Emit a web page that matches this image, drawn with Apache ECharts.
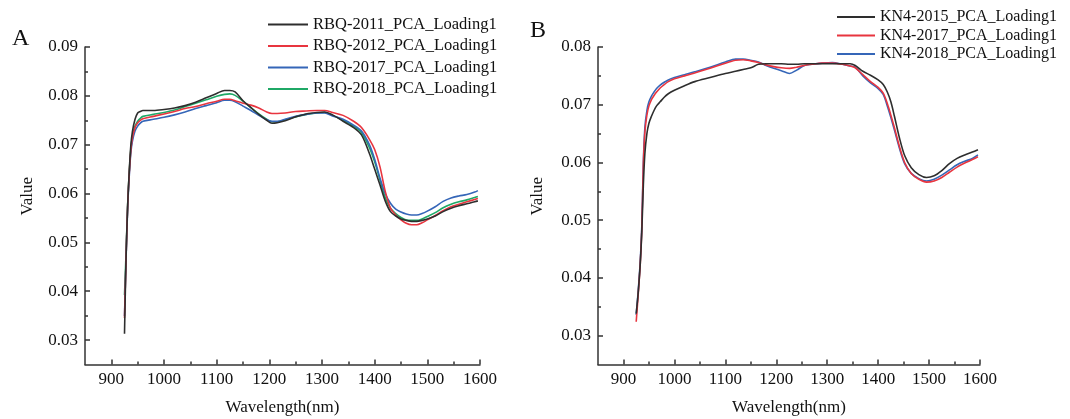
<!DOCTYPE html>
<html><head><meta charset="utf-8">
<script src="https://cdn.jsdelivr.net/npm/echarts@6/dist/echarts.min.js"></script>
<style>html,body{margin:0;padding:0;background:#fff}#c{width:1070px;height:419px}</style>
</head><body><div id="c"></div>
<script>
// ---------- Panel A data ----------
const wlA = [925,928,931,934,937,940,945,950,955,960,980,1000,1020,1040,1060,1080,1100,1115,1125,1135,1150,1165,1180,1195,1205,1215,1230,1250,1270,1290,1305,1320,1340,1360,1375,1390,1400,1410,1420,1430,1440,1450,1460,1470,1480,1490,1500,1515,1530,1545,1560,1575,1590,1596];
const rbq2011 = [0.0313,0.0470,0.0575,0.0645,0.0698,0.0727,0.0752,0.0765,0.0768,0.0770,0.0770,0.0772,0.0775,0.0780,0.0787,0.0796,0.0805,0.0811,0.0811,0.0808,0.0790,0.0776,0.0762,0.0750,0.0744,0.0745,0.0749,0.0757,0.0763,0.0766,0.0767,0.0761,0.0748,0.0735,0.0720,0.0682,0.0650,0.0618,0.0585,0.0563,0.0554,0.0548,0.0545,0.0543,0.0543,0.0545,0.0548,0.0554,0.0563,0.0570,0.0575,0.0579,0.0583,0.0585];
const rbq2012 = [0.0345,0.0470,0.0575,0.0640,0.0688,0.0714,0.0735,0.0745,0.0750,0.0753,0.0758,0.0763,0.0768,0.0774,0.0778,0.0784,0.0789,0.0793,0.0793,0.0790,0.0785,0.0781,0.0775,0.0767,0.0764,0.0764,0.0765,0.0768,0.0769,0.0770,0.0770,0.0766,0.0760,0.0748,0.0735,0.0711,0.0690,0.0655,0.0605,0.0570,0.0556,0.0546,0.0539,0.0536,0.0536,0.0540,0.0546,0.0555,0.0565,0.0573,0.0578,0.0583,0.0588,0.0590];
const rbq2017 = [0.0349,0.0468,0.0570,0.0635,0.0683,0.0707,0.0728,0.0738,0.0744,0.0748,0.0752,0.0756,0.0761,0.0767,0.0774,0.0780,0.0786,0.0791,0.0791,0.0788,0.0779,0.0770,0.0760,0.0751,0.0748,0.0748,0.0752,0.0758,0.0762,0.0765,0.0765,0.0759,0.0752,0.0740,0.0728,0.0700,0.0670,0.0632,0.0600,0.0580,0.0568,0.0562,0.0558,0.0556,0.0556,0.0559,0.0564,0.0573,0.0584,0.0591,0.0595,0.0598,0.0603,0.0606];
const rbq2018 = [0.0392,0.0480,0.0578,0.0643,0.0690,0.0717,0.0738,0.0748,0.0754,0.0758,0.0762,0.0766,0.0771,0.0778,0.0785,0.0792,0.0799,0.0803,0.0804,0.0801,0.0789,0.0776,0.0763,0.0752,0.0747,0.0747,0.0751,0.0757,0.0762,0.0765,0.0766,0.0760,0.0750,0.0738,0.0725,0.0694,0.0665,0.0628,0.0592,0.0570,0.0559,0.0551,0.0546,0.0545,0.0545,0.0548,0.0553,0.0561,0.0571,0.0578,0.0583,0.0587,0.0592,0.0594];
const namesA = ['RBQ-2011_PCA_Loading1','RBQ-2012_PCA_Loading1','RBQ-2017_PCA_Loading1','RBQ-2018_PCA_Loading1'];

// ---------- Panel B data ----------
const wlB = [925,929,933,936,939,942,946,950,955,960,965,972,980,988,1000,1020,1040,1070,1100,1120,1135,1150,1165,1180,1195,1210,1226,1240,1255,1270,1290,1310,1330,1345,1355,1370,1385,1400,1410,1418,1425,1432,1442,1452,1465,1480,1495,1510,1525,1540,1555,1570,1585,1596];
const kn2015 = [0.0338,0.0375,0.0425,0.0480,0.0560,0.0615,0.0650,0.0668,0.0680,0.0690,0.0698,0.0705,0.0713,0.0719,0.0725,0.0733,0.0740,0.0747,0.0754,0.0758,0.0761,0.0764,0.0770,0.0771,0.0771,0.0771,0.0770,0.0770,0.0771,0.0771,0.0771,0.0771,0.0771,0.0771,0.0768,0.0758,0.0751,0.0743,0.0735,0.0722,0.0705,0.0680,0.0642,0.0612,0.0591,0.0579,0.0574,0.0577,0.0586,0.0598,0.0607,0.0613,0.0618,0.0622];
const kn2017 = [0.0324,0.0372,0.0425,0.0485,0.0595,0.0652,0.0682,0.0698,0.0709,0.0716,0.0722,0.0729,0.0735,0.0740,0.0745,0.0750,0.0755,0.0763,0.0772,0.0777,0.0778,0.0776,0.0773,0.0769,0.0766,0.0764,0.0763,0.0765,0.0768,0.0770,0.0772,0.0772,0.0770,0.0767,0.0764,0.0752,0.0740,0.0730,0.0720,0.0702,0.0682,0.0660,0.0627,0.0600,0.0581,0.0571,0.0566,0.0568,0.0574,0.0583,0.0592,0.0599,0.0605,0.0610];
const kn2018 = [0.0336,0.0378,0.0430,0.0490,0.0600,0.0660,0.0690,0.0705,0.0715,0.0722,0.0728,0.0734,0.0739,0.0743,0.0747,0.0752,0.0757,0.0765,0.0774,0.0779,0.0779,0.0777,0.0774,0.0768,0.0763,0.0759,0.0754,0.0760,0.0768,0.0770,0.0772,0.0773,0.0770,0.0767,0.0765,0.0750,0.0738,0.0728,0.0718,0.0698,0.0678,0.0656,0.0624,0.0598,0.0581,0.0572,0.0568,0.0571,0.0578,0.0587,0.0596,0.0602,0.0607,0.0613];
const namesB = ['KN4-2015_PCA_Loading1','KN4-2017_PCA_Loading1','KN4-2018_PCA_Loading1'];

// ---------- tick values ----------
const xMajor = [900,1000,1100,1200,1300,1400,1500,1600];
const xMinor = [950,1050,1150,1250,1350,1450,1550];
const yMajorA = [0.03,0.04,0.05,0.06,0.07,0.08,0.09];
const yMinorA = [0.035,0.045,0.055,0.065,0.075,0.085];
const yMajorB = [0.03,0.04,0.05,0.06,0.07,0.08];
const yMinorB = [0.035,0.045,0.055,0.065,0.075];

const FONT = '"Liberation Serif","Times New Roman",serif';
const AX = '#333';
const colorsA = ['#2e2e2e','#e8353f','#3566b8','#1fa866'];
const colorsB = ['#2e2e2e','#e8353f','#3566b8'];

function pairs(xs, ys){ return xs.map((x,i)=>[x, ys[i]]); }

function xAxes(g){
  return [
    {type:'value', gridIndex:g, min:850, max:1600, position:'bottom',
     axisLine:{show:true, lineStyle:{color:AX, width:1.5}},
     axisTick:{show:true, inside:true, length:5, customValues:xMajor, lineStyle:{color:AX, width:1.5}},
     axisLabel:{customValues:xMajor, formatter:v=>String(v), color:'#111', fontFamily:FONT, fontSize:17, margin:7},
     splitLine:{show:false},
     name:'Wavelength(nm)', nameLocation:'middle', nameGap:35,
     nameTextStyle:{color:'#111', fontFamily:FONT, fontSize:17}},
    {type:'value', gridIndex:g, min:850, max:1600, position:'bottom', offset:0,
     axisLine:{show:false},
     axisTick:{show:true, inside:true, length:3, customValues:xMinor, lineStyle:{color:AX, width:1.5}},
     axisLabel:{show:false}, splitLine:{show:false}}
  ];
}
function yAxes(g, max, major, minor, gap){
  return [
    {type:'value', gridIndex:g, min:0.025, max:max, position:'left',
     axisLine:{show:true, lineStyle:{color:AX, width:1.5}},
     axisTick:{show:true, inside:true, length:5, customValues:major, lineStyle:{color:AX, width:1.5}},
     axisLabel:{customValues:major, formatter:v=>v.toFixed(2), color:'#111', fontFamily:FONT, fontSize:17, margin:7},
     splitLine:{show:false},
     name:'Value', nameLocation:'middle', nameGap:gap, nameRotate:90,
     nameTextStyle:{color:'#111', fontFamily:FONT, fontSize:17, padding:[0,0,0,19]}},
    {type:'value', gridIndex:g, min:0.025, max:max, position:'left', offset:0,
     axisLine:{show:false},
     axisTick:{show:true, inside:true, length:3, customValues:minor, lineStyle:{color:AX, width:1.5}},
     axisLabel:{show:false}, splitLine:{show:false}}
  ];
}

const series = [];
[rbq2011, rbq2012, rbq2017, rbq2018].forEach((ys,i)=>{
  series.push({type:'line', name:namesA[i], xAxisIndex:0, yAxisIndex:0, data:pairs(wlA, ys),
    symbol:'none', smooth:0.3, lineStyle:{width:1.6, color:colorsA[i]}, itemStyle:{color:colorsA[i]}, z:10-i});
});
[kn2015, kn2017, kn2018].forEach((ys,i)=>{
  series.push({type:'line', name:namesB[i], xAxisIndex:2, yAxisIndex:2, data:pairs(wlB, ys),
    symbol:'none', smooth:0.3, lineStyle:{width:1.6, color:colorsB[i]}, itemStyle:{color:colorsB[i]}, z:10-i});
});

const chart = echarts.init(document.getElementById('c'), null, {renderer:'canvas'});
chart.setOption({
  animation:false,
  backgroundColor:'#fff',
  grid:[{left:85, top:47, width:395, height:317.5, outerBoundsMode:'none', containLabel:false},
        {left:598, top:47, width:382, height:317.5, outerBoundsMode:'none', containLabel:false}],
  xAxis:[...xAxes(0), ...xAxes(1)],
  yAxis:[...yAxes(0, 0.09, yMajorA, yMinorA, 49), ...yAxes(1, 0.08, yMajorB, yMinorB, 52)],
  legend:[
    {data:namesA, orient:'vertical', left:262, top:11, itemWidth:40, itemHeight:14, itemGap:4.5, itemStyle:{opacity:0},
     textStyle:{color:'#111', fontFamily:FONT, fontSize:16.5}, selectedMode:false},
    {data:namesB, orient:'vertical', left:831, top:4, itemWidth:38, itemHeight:14, itemGap:2.5, itemStyle:{opacity:0},
     textStyle:{color:'#111', fontFamily:FONT, fontSize:16}, selectedMode:false}
  ],
  graphic:[
    {type:'text', left:12, top:27, style:{text:'A', font:'24px '+FONT, fill:'#111'}},
    {type:'text', left:530, top:19, style:{text:'B', font:'24px '+FONT, fill:'#111'}}
  ],
  series:series
});
</script></body></html>
